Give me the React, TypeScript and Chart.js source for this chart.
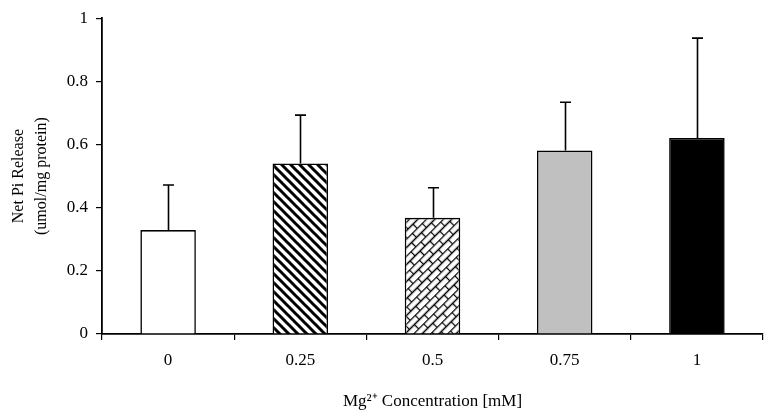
import React, { useEffect, useRef } from "react";
import { Chart, registerables } from "chart.js";

Chart.register(...registerables);

const categories = ["0", "0.25", "0.5", "0.75", "1"];
const values = [0.329, 0.54, 0.368, 0.581, 0.621];
const errors = [0.143, 0.153, 0.095, 0.153, 0.316];
const yTicks = [0, 0.2, 0.4, 0.6, 0.8, 1];

function stripePattern(): CanvasPattern | string {
  const c = document.createElement("canvas");
  const s = 9;
  c.width = s;
  c.height = s;
  const g = c.getContext("2d");
  if (!g) return "#fff";
  g.fillStyle = "#fff";
  g.fillRect(0, 0, s, s);
  g.strokeStyle = "#000";
  g.lineWidth = 3;
  for (let k = -1; k <= 1; k++) {
    g.beginPath();
    g.moveTo(k * s - 2, -2);
    g.lineTo(k * s + s + 2, s + 2);
    g.stroke();
  }
  return g.createPattern(c, "repeat") || "#fff";
}

function brickPattern(): CanvasPattern | string {
  const c = document.createElement("canvas");
  const W = 14;
  const H = 12;
  c.width = W;
  c.height = H;
  const g = c.getContext("2d");
  if (!g) return "#fff";
  g.fillStyle = "#fff";
  g.fillRect(0, 0, W, H);
  g.strokeStyle = "#000";
  g.lineWidth = 1.3;
  g.beginPath();
  g.moveTo(0, 0.5);
  g.lineTo(W, 0.5);
  g.moveTo(0, H / 2 + 0.5);
  g.lineTo(W, H / 2 + 0.5);
  g.moveTo(0.5, 0);
  g.lineTo(0.5, H / 2);
  g.moveTo(W / 2 + 0.5, H / 2);
  g.lineTo(W / 2 + 0.5, H);
  g.stroke();
  const p = g.createPattern(c, "repeat");
  if (!p) return "#fff";
  try {
    p.setTransform(new DOMMatrix().rotate(-45));
  } catch (e) {
    /* ignore */
  }
  return p;
}

const errorBarPlugin = {
  id: "errorBars",
  afterDatasetsDraw(chart: any) {
    const ctx = chart.ctx;
    const meta = chart.getDatasetMeta(0);
    const yScale = chart.scales.y;
    ctx.save();
    ctx.strokeStyle = "#000";
    ctx.lineWidth = 1.6;
    meta.data.forEach((bar: any, i: number) => {
      const top = yScale.getPixelForValue(values[i] + errors[i]);
      const x = Math.round(bar.x) + 0.5;
      ctx.beginPath();
      ctx.moveTo(x, bar.y);
      ctx.lineTo(x, top);
      ctx.moveTo(x - 5.5, top);
      ctx.lineTo(x + 5.5, top);
      ctx.stroke();
    });
    ctx.restore();
  },
};

export default function App() {
  const ref = useRef<HTMLCanvasElement | null>(null);

  useEffect(() => {
    document.body.style.margin = "0";
    const canvas = ref.current;
    if (!canvas) return;
    const fills = ["#ffffff", stripePattern(), brickPattern(), "#c0c0c0", "#000000"];
    const family = "'Liberation Serif', 'Times New Roman', serif";
    const tickFont = { family, size: 17 };
    const chart = new Chart(canvas, {
      type: "bar",
      data: {
        labels: categories,
        datasets: [
          {
            data: values,
            backgroundColor: fills as any,
            borderColor: "#000",
            borderWidth: 1.6,
            borderSkipped: "bottom",
            categoryPercentage: 1,
            barPercentage: 0.42,
          },
        ],
      },
      options: {
        animation: false,
        responsive: false,
        maintainAspectRatio: false,
        layout: { padding: { top: 18, right: 9, left: 0, bottom: 0 } },
        plugins: {
          legend: { display: false },
          tooltip: { enabled: false },
        },
        scales: {
          x: {
            offset: true,
            grid: {
              display: true,
              offset: true,
              drawOnChartArea: false,
              drawTicks: true,
              tickLength: 6,
              color: "#000",
              lineWidth: 1.2,
            },
            border: { display: true, color: "#000", width: 1.8 },
            ticks: { color: "#000", font: tickFont, padding: 10 },
            title: {
              display: true,
              text: "Mg²⁺ Concentration [mM]",
              color: "#000",
              font: { family, size: 17 },
              padding: { top: 0, bottom: 8 },
            },
            afterFit(scale: any) {
              scale.height = 420 - 334;
            },
          },
          y: {
            min: 0,
            max: 1,
            afterBuildTicks(scale: any) {
              scale.ticks = yTicks.map((v) => ({ value: v }));
            },
            grid: {
              display: true,
              drawOnChartArea: false,
              drawTicks: true,
              tickLength: 6,
              color: "#000",
              lineWidth: 1.2,
            },
            border: { display: true, color: "#000", width: 1.8 },
            ticks: {
              color: "#000",
              font: tickFont,
              padding: 8,
              callback: (v: any) => String(v),
            },
            title: {
              display: true,
              text: ["Net Pi Release", "(umol/mg protein)"],
              color: "#000",
              font: { family, size: 16, lineHeight: 1.4 },
              padding: { top: 8, bottom: 10 },
            },
            afterFit(scale: any) {
              scale.width = 102;
            },
          },
        },
      },
      plugins: [errorBarPlugin],
    });
    return () => chart.destroy();
  }, []);

  return (
    <div style={{ width: 772, height: 420, background: "#fff" }}>
      <canvas ref={ref} width={772} height={420} style={{ display: "block" }} />
    </div>
  );
}
